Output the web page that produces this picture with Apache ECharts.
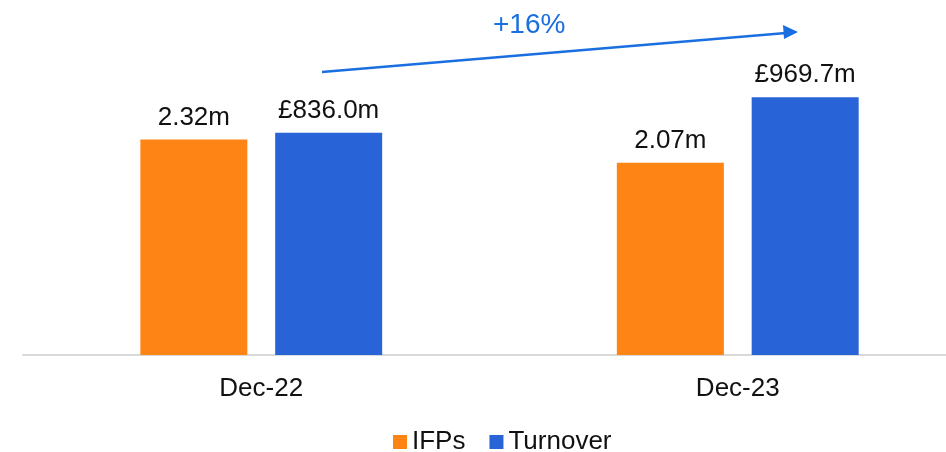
<!DOCTYPE html>
<html>
<head>
<meta charset="utf-8">
<script src="https://cdn.jsdelivr.net/npm/echarts@6/dist/echarts.min.js"></script>
<style>
  html, body { margin: 0; padding: 0; background: #fff; }
  #chart { width: 946px; height: 452px; }
</style>
</head>
<body>
<div id="chart"></div>
<script>
// data
const categories = ['Dec-22', 'Dec-23'];
const ifps = [2.32, 2.07];
const turnover = [836.0, 969.7];
const changeLabel = '+16%';

const FONT = '"Liberation Sans", Arial, sans-serif';
const ORANGE = '#fe8515';
const BLUE = '#2864d8';
const ARROW = '#1a6fe0';

const chart = echarts.init(document.getElementById('chart'));

// x is a value axis so the category slots can run past the right edge like the original
const option = {
  animation: false,
  textStyle: { fontFamily: FONT },
  grid: { left: 23, right: 0, top: 20, bottom: 97 },
  legend: {
    data: ['IFPs', 'Turnover'],
    left: 388,
    top: 424,
    icon: 'rect',
    itemWidth: 14,
    itemHeight: 14,
    itemGap: 24,
    textStyle: { fontSize: 26, color: '#111', fontFamily: FONT }
  },
  xAxis: {
    type: 'value',
    min: -0.5,
    max: 1.437,
    splitLine: { show: false },
    axisLine: { show: true, lineStyle: { color: '#d9d9d9', width: 2 } },
    axisTick: { show: false },
    axisLabel: {
      customValues: categories.map((c, i) => i),
      formatter: v => categories[Math.round(v)] || '',
      fontSize: 26,
      color: '#111',
      margin: 21,
      fontFamily: FONT
    }
  },
  yAxis: [
    { type: 'value', min: 0, max: 3.605, show: false },
    { type: 'value', min: 0, max: 1260, show: false }
  ],
  series: [
    {
      name: 'IFPs',
      type: 'bar',
      yAxisIndex: 0,
      data: ifps.map((v, i) => [i, v]),
      barWidth: 107,
      barGap: '26%',
      itemStyle: { color: ORANGE },
      label: {
        show: true,
        position: 'top',
        distance: 9,
        fontSize: 26,
        color: '#111',
        fontFamily: FONT,
        formatter: p => p.value[1].toFixed(2) + 'm'
      }
    },
    {
      name: 'Turnover',
      type: 'bar',
      yAxisIndex: 1,
      data: turnover.map((v, i) => [i, v]),
      barWidth: 107,
      barGap: '26%',
      itemStyle: { color: BLUE },
      label: {
        show: true,
        position: 'top',
        distance: 9,
        fontSize: 26,
        color: '#111',
        fontFamily: FONT,
        formatter: p => '£' + p.value[1].toFixed(1) + 'm'
      }
    }
  ],
  graphic: [
    {
      type: 'line',
      shape: { x1: 322, y1: 72, x2: 786, y2: 33 },
      style: { stroke: ARROW, lineWidth: 2.5 }
    },
    {
      type: 'polygon',
      shape: { points: [[798, 32], [783, 25], [784, 39]] },
      style: { fill: ARROW }
    },
    {
      type: 'text',
      left: 493,
      top: 11,
      style: { text: changeLabel, fill: ARROW, fontSize: 28, fontFamily: FONT }
    }
  ]
};

chart.setOption(option);
</script>
</body>
</html>
